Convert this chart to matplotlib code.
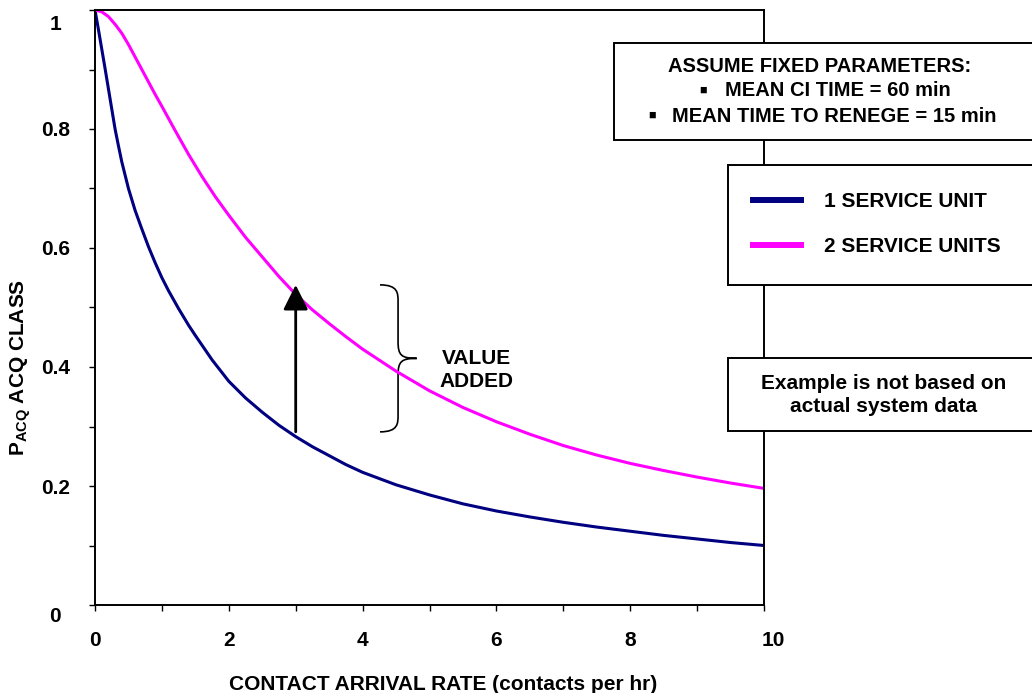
import matplotlib
matplotlib.use("Agg")
import matplotlib.pyplot as plt
import numpy as np
from matplotlib.patches import Rectangle, PathPatch
from matplotlib.path import Path
from matplotlib.ticker import MultipleLocator, FuncFormatter
from matplotlib.transforms import ScaledTranslation

plt.rcParams['font.family'] = ['Liberation Sans', 'DejaVu Sans']
plt.rcParams['font.weight'] = 'bold'
plt.rcParams['axes.labelweight'] = 'bold'
plt.rcParams['font.size'] = 15
plt.rcParams['mathtext.fontset'] = 'custom'
plt.rcParams['mathtext.rm'] = 'Liberation Sans:bold'
plt.rcParams['mathtext.it'] = 'Liberation Sans:bold'
plt.rcParams['mathtext.bf'] = 'Liberation Sans:bold'

# values
rate_1 = [0, 0.05, 0.1, 0.15, 0.2, 0.25, 0.3, 0.35, 0.4, 0.5, 0.6, 0.7, 0.8, 0.9,
          1.0, 1.1, 1.25, 1.4, 1.5, 1.75, 2.0, 2.25, 2.5, 2.75, 3.0, 3.25, 3.5,
          3.75, 4.0, 4.5, 5.0, 5.5, 6.0, 6.5, 7.0, 7.5, 8.0, 8.5, 9.0, 9.5, 10.0]
p_acq_1 = [1.0, 0.968, 0.935, 0.902, 0.868, 0.834, 0.80, 0.772, 0.745, 0.70,
           0.663, 0.632, 0.602, 0.575, 0.55, 0.528, 0.498, 0.47, 0.453, 0.412,
           0.376, 0.348, 0.324, 0.302, 0.283, 0.266, 0.251, 0.236, 0.223, 0.202,
           0.185, 0.17, 0.158, 0.148, 0.139, 0.131, 0.124, 0.117, 0.111, 0.105,
           0.10]
rate_2 = [0, 0.1, 0.2, 0.3, 0.4, 0.5, 0.6, 0.7, 0.8, 0.9, 1.0, 1.2, 1.4, 1.6,
          1.8, 2.0, 2.25, 2.5, 2.75, 3.0, 3.25, 3.5, 3.75, 4.0, 4.5, 5.0, 5.5,
          6.0, 6.5, 7.0, 7.5, 8.0, 8.5, 9.0, 9.5, 10.0]
p_acq_2 = [1.0, 0.997, 0.989, 0.976, 0.961, 0.942, 0.921, 0.90, 0.879, 0.858,
           0.838, 0.797, 0.757, 0.72, 0.686, 0.655, 0.618, 0.585, 0.552, 0.522,
           0.496, 0.473, 0.451, 0.43, 0.393, 0.36, 0.332, 0.308, 0.287, 0.268,
           0.252, 0.238, 0.226, 0.215, 0.205, 0.196]
labels = ["1 SERVICE UNIT", "2 SERVICE UNITS"]
colors = ["#000080", "#FF00FF"]
arrow_x = 3.0

W, H = 1032, 693


def fx(px):
    return px / W


def fy(py):
    return 1 - py / H


fig = plt.figure(figsize=(W / 100, H / 100), dpi=100)
ax = fig.add_axes([fx(95), fy(605), (764 - 95) / W, (605 - 10) / H])

ax.plot(rate_1, p_acq_1, color=colors[0], lw=2.2, label=labels[0])
ax.plot(rate_2, p_acq_2, color=colors[1], lw=2.2, label=labels[1])

ax.set_xlim(0, 10)
ax.set_ylim(0, 1)
ax.xaxis.set_major_locator(MultipleLocator(2))
ax.xaxis.set_minor_locator(MultipleLocator(1))
ax.yaxis.set_major_locator(MultipleLocator(0.2))
ax.yaxis.set_minor_locator(MultipleLocator(0.1))
ax.yaxis.set_major_formatter(FuncFormatter(lambda v, p: f"{v:g}"))
ax.tick_params(which='both', direction='out', length=4.5, width=1)
ax.tick_params(axis='x', pad=14)
ax.tick_params(axis='y', pad=24)
for sp in ax.spines.values():
    sp.set_linewidth(1.4)
for lbl in ax.get_yticklabels():
    lbl.set_ha('center')

ax.set_xlabel("CONTACT ARRIVAL RATE (contacts per hr)")
ax.xaxis.set_label_coords(0.52, -0.117)
ax.set_ylabel(r"P$_{\rm ACQ}$ ACQ CLASS")
ax.yaxis.set_label_coords(-0.093, 0.40)

# arrow from the 1-unit curve up to the 2-unit curve
y_lo = np.interp(arrow_x, rate_1, p_acq_1) + 0.008
y_hi = np.interp(arrow_x, rate_2, p_acq_2) + 0.016
ax.annotate("", xy=(arrow_x, y_hi), xytext=(arrow_x, y_lo),
            arrowprops=dict(arrowstyle="-|>,head_length=0.4,head_width=0.2",
                            mutation_scale=38, lw=2, color="black",
                            shrinkA=0, shrinkB=0))

# curly brace
x0, xs, xt = 4.26, 4.53, 4.81
ytop, ybot = y_hi, y_lo
ymid = (ytop + ybot) / 2
r = 0.028
verts = [(x0, ytop), (xs, ytop), (xs, ytop - r / 2), (xs, ytop - r),
         (xs, ymid + r),
         (xs, ymid + 0.005), (xs + 0.05, ymid), (xt, ymid),
         (xs + 0.05, ymid), (xs, ymid - 0.005), (xs, ymid - r),
         (xs, ybot + r),
         (xs, ybot + r / 2), (xs, ybot), (x0, ybot)]
codes = [Path.MOVETO, Path.CURVE4, Path.CURVE4, Path.CURVE4,
         Path.LINETO,
         Path.CURVE4, Path.CURVE4, Path.CURVE4,
         Path.CURVE4, Path.CURVE4, Path.CURVE4,
         Path.LINETO,
         Path.CURVE4, Path.CURVE4, Path.CURVE4]
ax.add_patch(PathPatch(Path(verts, codes), facecolor='none', edgecolor='black', lw=1.2))
ax.text(5.7, ymid - 0.02, "VALUE\nADDED", ha='center', va='center', linespacing=1.25)


# boxes on the right
def box(left, top, bottom):
    fig.add_artist(Rectangle((fx(left), fy(bottom)), fx(1040 - left), (bottom - top) / H,
                             transform=fig.transFigure, facecolor='white',
                             edgecolor='black', lw=1.4))


box(614, 43, 140)
fig.text(fx(820), fy(66), "ASSUME FIXED PARAMETERS:", ha='center', va='center', fontsize=14.5)
fig.text(fx(725), fy(91), "MEAN CI TIME = 60 min", ha='left', va='center', fontsize=14.5)
fig.text(fx(672), fy(116), "MEAN TIME TO RENEGE = 15 min", ha='left', va='center', fontsize=14.5)
fig.text(fx(703), fy(91), "\u25a0", ha='center', va='center', fontsize=9)
fig.text(fx(652), fy(116), "\u25a0", ha='center', va='center', fontsize=9)

box(728, 165, 285)
leg = ax.legend(loc='upper left', bbox_to_anchor=(fx(753), fy(192)),
                bbox_transform=fig.transFigure, frameon=False, borderpad=0,
                borderaxespad=0, handlelength=2.3, handletextpad=1.1,
                labelspacing=1.25)
for ln in leg.get_lines():
    ln.set_linewidth(4.3)
leg.set_zorder(5)
leg.remove()
fig.add_artist(leg)

box(728, 358, 431)
fig.text(fx(884), fy(395), "Example is not based on\nactual system data",
         ha='center', va='center', linespacing=1.25)

# end labels sit a little off their ticks in the original
fig.canvas.draw()
for t in ax.yaxis.get_major_ticks():
    txt = t.label1.get_text()
    if txt == "1":
        t.label1.set_transform(t.label1.get_transform() + ScaledTranslation(0, -0.13, fig.dpi_scale_trans))
    elif txt == "0":
        t.label1.set_transform(t.label1.get_transform() + ScaledTranslation(0, -0.09, fig.dpi_scale_trans))
for t in ax.xaxis.get_major_ticks():
    if t.label1.get_text() == "10":
        t.label1.set_transform(t.label1.get_transform() + ScaledTranslation(0.09, 0, fig.dpi_scale_trans))

fig.savefig("out.png", dpi=100)
